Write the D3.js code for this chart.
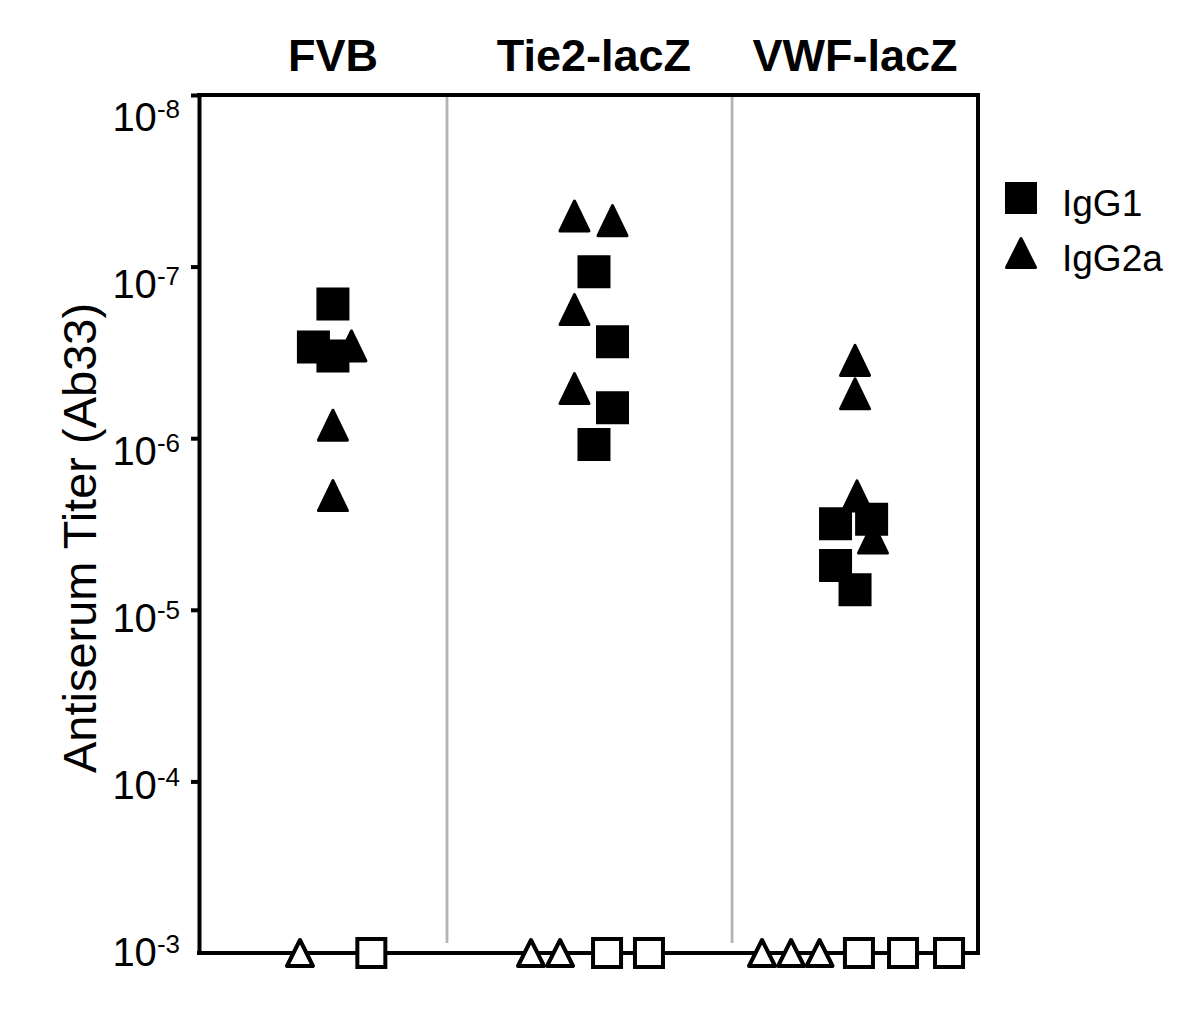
<!DOCTYPE html>
<html>
<head>
<meta charset="utf-8">
<script src="https://cdnjs.cloudflare.com/ajax/libs/d3/7.8.5/d3.min.js"></script>
<style>
  body { margin: 0; background: #fff; }
  text { font-family: "Liberation Sans", Arial, Helvetica, sans-serif; fill: #000; }
</style>
</head>
<body>
<svg id="chart" width="1199" height="1027"></svg>
<script>
/*Data (titers)*/
var groups = ["FVB", "Tie2-lacZ", "VWF-lacZ"];
var seriesNames = ["IgG1", "IgG2a"];
var yTickValues = [1e-8, 1e-7, 1e-6, 1e-5, 1e-4, 1e-3];
var detectionLimit = 1e-3;

// detected animals, one list per group
var igg1Titer  = [[1.65e-7, 2.94e-7, 3.32e-7], [1.07e-7, 2.74e-7, 6.64e-7, 1.09e-6], [2.97e-6, 3.15e-6, 5.51e-6, 7.64e-6]];
var igg1Slot   = [[0, -1, 0], [0, 0.95, 0.95, 0], [0.85, -1, -1, 0]];
var igg2aTiter = [[2.90e-7, 8.4e-7, 2.16e-6], [5.07e-8, 5.40e-8, 1.78e-7, 5.14e-7], [3.52e-7, 5.51e-7, 2.17e-6, 3.82e-6]];
var igg2aSlot  = [[0.95, 0, 0], [-1, 0.95, -1, -1], [0, 0, 0.1, 0.92]];

// animals below detection (plotted at the limit), jitter slot only
var ndIgg1Slot  = [[1.97], [0.67, 2.82], [0.2, 2.46, 4.82]];
var ndIgg2aSlot = [[-1.69], [-3.23, -1.74], [-4.77, -3.28, -1.82]];

// group separators sit between the groups
var separators = [0.437, 1.529];

/*Layout*/
var W = 1199, H = 1027;
var margin = {top: 95, right: 221, bottom: 74, left: 199};
var SLOT = 0.0747; // marker spacing in group units

var svg = d3.select("#chart");

var x = d3.scaleLinear()
    .domain([-0.513, 2.471])
    .range([margin.left, W - margin.right]);

var y = d3.scaleLog()
    .domain([1e-3, 1e-8])
    .range([H - margin.bottom, margin.top]);

// tick labels are spaced a bit tighter than the ticks themselves
var yLabel = y.copy().range([H - margin.bottom + 13, margin.top + 36]);

function px(g, slot) { return x(g + slot * SLOT); }

function flatten(titers, slots, shape, filled) {
  var out = [];
  slots.forEach(function (list, g) {
    list.forEach(function (s, i) {
      out.push({g: g, slot: s, v: titers ? titers[g][i] : detectionLimit, shape: shape, filled: filled});
    });
  });
  return out;
}

function trianglePath(w, h) {
  return "M0," + (-h / 2) + "L" + (w / 2) + "," + (h / 2) + "L" + (-w / 2) + "," + (h / 2) + "Z";
}
function squarePath(s) {
  return "M" + (-s / 2) + "," + (-s / 2) + "h" + s + "v" + s + "h" + (-s) + "Z";
}

/*Group separators*/
svg.append("g").selectAll("line")
    .data(separators)
    .enter().append("line")
    .attr("x1", function (d) { return x(d); })
    .attr("x2", function (d) { return x(d); })
    .attr("y1", y(1e-8) + 2)
    .attr("y2", y(1e-3) - 10)
    .attr("stroke", "#b4b4b4")
    .attr("stroke-width", 2.8);

/*Frame + axis*/
var yAxis = d3.axisLeft(y)
    .tickValues(yTickValues.filter(function (d) { return d !== 1e-3; }))
    .tickSize(8)
    .tickSizeOuter(0)
    .tickFormat("");

var axisG = svg.append("g")
    .attr("transform", "translate(" + margin.left + ",0)")
    .call(yAxis);
axisG.selectAll("path, line").attr("stroke", "#000").attr("stroke-width", 4);

var frame = svg.append("g").attr("stroke", "#000").attr("stroke-width", 4).attr("stroke-linecap", "square");
frame.append("line").attr("x1", margin.left).attr("x2", W - margin.right).attr("y1", y(1e-8)).attr("y2", y(1e-8));
frame.append("line").attr("x1", margin.left).attr("x2", W - margin.right).attr("y1", y(1e-3)).attr("y2", y(1e-3));
frame.append("line").attr("x1", W - margin.right).attr("x2", W - margin.right).attr("y1", y(1e-8)).attr("y2", y(1e-3));

/*Tick labels 10^-n*/
var tickLabels = svg.append("g").selectAll("text")
    .data(yTickValues)
    .enter().append("text")
    .attr("x", 180)
    .attr("y", function (d) { return yLabel(d); })
    .attr("text-anchor", "end")
    .style("font-size", "40px");
tickLabels.append("tspan").text("10");
tickLabels.append("tspan")
    .attr("dy", -13)
    .style("font-size", "26px")
    .text(function (d) { return Math.round(Math.log10(d)); });

/*Axis title*/
svg.append("text")
    .attr("transform", "translate(96,538) rotate(-90)")
    .attr("text-anchor", "middle")
    .style("font-size", "47px")
    .text("Antiserum Titer (Ab33)");

/*Group headers*/
svg.append("g").selectAll("text")
    .data(groups)
    .enter().append("text")
    .attr("x", function (d, i) { return x(i); })
    .attr("y", 71)
    .attr("text-anchor", "middle")
    .style("font-size", "45px")
    .style("font-weight", "bold")
    .text(function (d) { return d; });

/*Points: triangles under squares, open markers on top of the axis*/
var points = []
    .concat(flatten(igg2aTiter, igg2aSlot, "tri", true))
    .concat(flatten(igg1Titer, igg1Slot, "sq", true))
    .concat(flatten(null, ndIgg2aSlot, "tri", false))
    .concat(flatten(null, ndIgg1Slot, "sq", false));

svg.append("g").selectAll("path")
    .data(points)
    .enter().append("path")
    .attr("transform", function (d) { return "translate(" + px(d.g, d.slot) + "," + y(d.v) + ")"; })
    .attr("d", function (d) {
      if (d.shape === "sq") return d.filled ? squarePath(33) : squarePath(28);
      return d.filled ? trianglePath(29, 30) : trianglePath(26, 26);
    })
    .attr("fill", function (d) { return d.filled ? "#000" : "#fff"; })
    .attr("stroke", "#000")
    .attr("stroke-width", function (d) { return d.filled ? (d.shape === "tri" ? 3 : 0) : 4; })
    .attr("stroke-linejoin", function (d) { return d.shape === "tri" ? "round" : "miter"; });

/*Legend*/
var legend = svg.append("g").selectAll("g")
    .data(seriesNames)
    .enter().append("g")
    .attr("transform", function (d, i) { return "translate(1021," + (198 + i * 55) + ")"; });
legend.append("path")
    .attr("d", function (d, i) { return i === 0 ? squarePath(32) : trianglePath(29, 29); })
    .attr("fill", "#000")
    .attr("stroke", "#000")
    .attr("stroke-width", function (d, i) { return i === 0 ? 0 : 3; })
    .attr("stroke-linejoin", "round");
legend.append("text")
    .attr("x", 41)
    .attr("y", 18)
    .style("font-size", "37px")
    .text(function (d) { return d; });
</script>
</body>
</html>
